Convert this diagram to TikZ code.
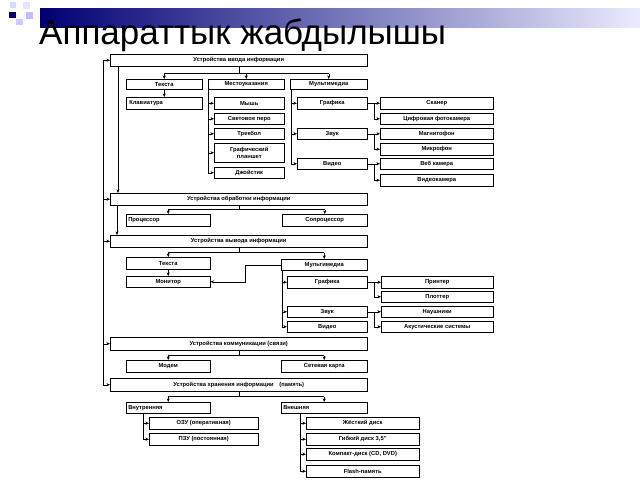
\documentclass[tikz,border=0pt]{standalone}
\usepackage{fontspec}
\setmainfont{Liberation Sans}
\usetikzlibrary{arrows.meta, shadows}

\tikzset{
    box/.style={draw, line width=0.5pt, fill=white, anchor=north west, inner sep=1pt,
        font=\fontsize{5.8}{6.3}\selectfont\bfseries, align=center,
        drop shadow={shadow xshift=0.8pt, shadow yshift=-0.8pt, fill=gray!70, opacity=1}},
    lbox/.style={box, text width=#1, align=left},
    arr/.style={-{Stealth[length=3.6pt, width=3pt]}, line width=0.5pt},
    ln/.style={line width=0.5pt}
}
% box from (x1,y1) to (x2,y2) in pixels
\newcommand{\bx}[7][box]{\pgfmathsetmacro{\bw}{#5-#3}\pgfmathsetmacro{\bh}{#6-#4}%
    \node[#1, minimum width=\bw pt, minimum height=\bh pt] (#2) at (#3,#4) {#7};}

\begin{document}
\begin{tikzpicture}[x=1pt, y=-1pt]
    \useasboundingbox (0,0) rectangle (640,480);

    % title band
    \shade[left color=blue!45!black, right color=blue!8] (40,8) rectangle (640,27);
    \fill[blue!45!black] (9,12) rectangle (16,18);
    \fill[blue!15] (10,2) rectangle (16,8);
    \fill[blue!20] (16,19) rectangle (23,25);
    \fill[blue!10] (23,2) rectangle (30,9);
    \fill[blue!25] (26,12) rectangle (33,19);
    \node[anchor=base west, inner sep=0pt, font=\fontsize{35}{37}\selectfont] (title) at (39,44) {Аппараттык жабдылышы};

    % input devices
    \bx{in}{110}{54}{367}{66}{Устройства ввода информации}
    \bx{txt}{126}{79}{202}{89}{Текста}
    \bx{loc}{208}{79}{284}{89}{Местоуказания}
    \bx{mm}{290}{79}{367}{89}{Мультимедиа}
    \bx[lbox=70pt]{kbd}{126}{97}{202}{109}{Клавиатура}
    \bx{mouse}{214}{97}{284}{109}{Мышь}
    \bx{pen}{214}{113}{284}{124}{Световое перо}
    \bx{ball}{214}{128}{284}{139}{Трекбол}
    \bx{tab}{214}{143}{284}{162}{Графический\\планшет}
    \bx{joy}{214}{167}{284}{178}{Джойстик}
    \bx{gr}{297}{97}{367}{109}{Графика}
    \bx{snd}{297}{128}{367}{139}{Звук}
    \bx{vid}{297}{158}{367}{169}{Видео}
    \bx{scan}{380}{97}{493}{109}{Сканер}
    \bx{cam}{380}{113}{493}{124}{Цифровая фотокамера}
    \bx{tape}{380}{128}{493}{139}{Магнитофон}
    \bx{mic}{380}{143}{493}{155}{Микрофон}
    \bx{web}{380}{158}{493}{169}{Веб камера}
    \bx{vcam}{380}{174}{493}{186}{Видеокамера}

    % processing
    \bx{proc}{110}{193}{367}{205}{Устройства обработки информации}
    \bx[lbox=80pt]{cpu}{126}{214}{210}{226}{Процессор}
    \bx{fpu}{282}{214}{367}{226}{Сопроцессор}

    % output
    \bx{out}{110}{235}{367}{247}{Устройства вывода информации}
    \bx{otxt}{126}{257}{210}{269}{Текста}
    \bx{omm}{281}{259}{367}{270}{Мультимедиа}
    \bx{mon}{126}{276}{210}{287}{Монитор}
    \bx{ogr}{287}{276}{367}{288}{Графика}
    \bx{osnd}{287}{306}{367}{317}{Звук}
    \bx{ovid}{287}{321}{367}{332}{Видео}
    \bx{prn}{381}{276}{493}{288}{Принтер}
    \bx{plt}{381}{291}{493}{302}{Плоттер}
    \bx{head}{381}{306}{493}{317}{Наушники}
    \bx{spk}{381}{321}{493}{332}{Акустические системы}

    % communication
    \bx{com}{110}{337}{367}{350}{Устройства коммуникации (связи)}
    \bx{modem}{126}{360}{210}{372}{Модем}
    \bx{net}{281}{360}{367}{372}{Сетевая карта}

    % storage
    \bx{mem}{110}{378}{367}{391}{Устройства хранения информации\quad(память)}
    \bx[lbox=80pt]{intl}{126}{402}{210}{413}{Внутренняя}
    \bx[lbox=82pt]{extl}{281}{402}{367}{413}{Внешняя}
    \bx{ram}{149}{417}{258}{429}{ОЗУ (оперативная)}
    \bx{rom}{149}{433}{258}{445}{ПЗУ (постоянная)}
    \bx{hdd}{306}{417}{419}{429}{Жёсткий диск}
    \bx{fdd}{306}{433}{419}{445}{Гибкий диск 3,5''}
    \bx{cd}{306}{448}{419}{460}{Компакт-диск (CD, DVD)}
    \bx{flash}{306}{465}{419}{477}{Flash-память}

    % main bus on the left
    \coordinate (bus) at (103,60);
    \draw[ln] (bus) -- (103,385);
    \foreach \b in {in,proc,out,com,mem}
        \draw[arr] (\b.west -| bus) -- (\b.west);
    \draw[arr] (118,66) -- (118,193);
    \draw[arr] (117,205) -- (117,235);

    % branches down from a box
    \draw[ln] (in.south) -- ++(0,7) coordinate (b1);
    \draw[ln] (b1 -| txt.north) -- (b1 -| mm.north);
    \foreach \c in {txt,loc,mm} \draw[arr] (b1 -| \c.north) -- (\c.north);
    \draw[arr] (txt.south) -- (kbd.north);
    \draw[ln] (proc.south) -- ++(0,4) coordinate (b2);
    \draw[ln] (b2 -| cpu.north) -- (b2 -| fpu.north);
    \foreach \c in {cpu,fpu} \draw[arr] (b2 -| \c.north) -- (\c.north);
    \draw[ln] (out.south) -- ++(0,5) coordinate (b3);
    \draw[ln] (b3 -| otxt.north) -- (b3 -| omm.north);
    \foreach \c in {otxt,omm} \draw[arr] (b3 -| \c.north) -- (\c.north);
    \draw[arr] (otxt.south) -- (mon.north);
    \draw[arr] (omm.west) -- ++(-36,0) |- (mon.east);
    \draw[ln] (com.south) -- ++(0,5) coordinate (b4);
    \draw[ln] (b4 -| modem.north) -- (b4 -| net.north);
    \foreach \c in {modem,net} \draw[arr] (b4 -| \c.north) -- (\c.north);
    \draw[ln] (mem.south) -- ++(0,5) coordinate (b5);
    \draw[ln] (b5 -| intl.north) -- (b5 -| extl.north);
    \foreach \c in {intl,extl} \draw[arr] (b5 -| \c.north) -- (\c.north);

    % side lists
    \coordinate (l1) at (208,89);
    \draw[ln] (l1) -- (joy.west -| l1);
    \foreach \c in {mouse,pen,ball,tab,joy} \draw[arr] (\c.west -| l1) -- (\c.west);
    \coordinate (l2) at (291,89);
    \draw[ln] (l2) -- (vid.west -| l2);
    \foreach \c in {gr,snd,vid} \draw[arr] (\c.west -| l2) -- (\c.west);
    \coordinate (l3) at (282,270);
    \draw[ln] (l3) -- (ovid.west -| l3);
    \foreach \c in {ogr,osnd,ovid} \draw[arr] (\c.west -| l3) -- (\c.west);
    \coordinate (l4) at (143,413);
    \draw[ln] (l4) -- (rom.west -| l4);
    \foreach \c in {ram,rom} \draw[arr] (\c.west -| l4) -- (\c.west);
    \coordinate (l5) at (300,413);
    \draw[ln] (l5) -- (flash.west -| l5);
    \foreach \c in {hdd,fdd,cd,flash} \draw[arr] (\c.west -| l5) -- (\c.west);

    % pairs to the right
    \coordinate (s) at (374,0);
    \foreach \p/\a/\b in {gr/scan/cam, snd/tape/mic, vid/web/vcam, ogr/prn/plt, osnd/head/spk} {
        \draw[ln] (\p.east) -- (\p.east -| s) -- (\b.west -| s);
        \draw[arr] (\a.west -| s) -- (\a.west);
        \draw[arr] (\b.west -| s) -- (\b.west);
    }
\end{tikzpicture}
\end{document}
